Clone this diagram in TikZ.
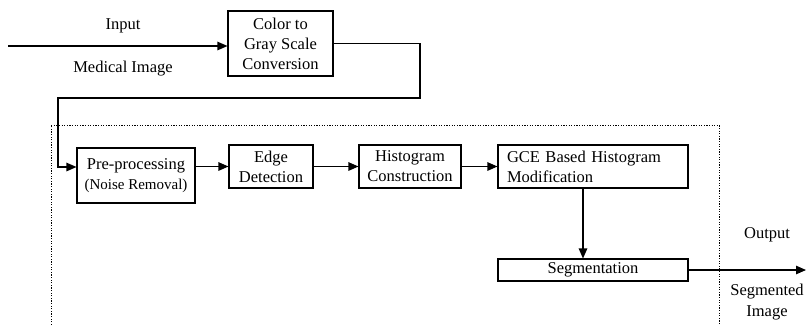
\documentclass[tikz,border=0pt]{standalone}
\usepackage{fontspec}
\setmainfont{Liberation Serif}
\usetikzlibrary{arrows.meta}
\tikzset{
  box/.style={draw, line width=1.1pt, inner sep=2pt, align=center, font=\fontsize{16.5}{20}\selectfont},
  lbl/.style={inner sep=0pt, align=center, font=\fontsize{16.5}{21}\selectfont},
  arr/.style={line width=1.1pt, -{Triangle[length=10pt,width=8.5pt]}},
  frame/.style={line width=1pt, dash pattern=on 1.2pt off 1.4pt}
}
\begin{document}
\begin{tikzpicture}[x=1pt,y=-1pt]
\useasboundingbox (0,0) rectangle (807,325);
% boxes
\node[box, minimum width=105pt, minimum height=65pt] (color) at (280.5,43.5) {Color to\\Gray Scale\\Conversion};
\node[box, minimum width=118pt, minimum height=55pt] (pre) at (136,175.5) {Pre-processing\\{\fontsize{15}{19}\selectfont (Noise Removal)}};
\node[box, minimum width=84pt, minimum height=43pt] (edge) at (271,166.5) {Edge\\Detection};
\node[box, minimum width=102pt, minimum height=43pt] (hist) at (410,166.5) {Histogram\\Construction};
\node[box, minimum width=190pt, minimum height=43pt, text width=172pt, align=left] (gce) at (593,166.5) {GCE Based Histogram\\Modification};
\node[box, minimum width=190pt, minimum height=22pt, inner sep=1pt] (seg) at (593,270) {Segmentation};
% labels
\node[lbl] (inlbl) at (123,26) {Input};
\node[lbl] (medlbl) at (123,69) {Medical Image};
\node[lbl] (outlbl) at (767,235) {Output};
\node[lbl] (seglbl) at (767,302) {Segmented\\Image};
% frame
\draw[frame] (51,325) -- (51,125) -- (719,125) -- (719,325);
% connectors
\coordinate (inStart) at (8,46);
\coordinate (c1) at (420,98);
\coordinate (c2) at (58,98);
\coordinate (outEnd) at (806,271);
\draw[arr] (inStart) -- (inStart -| color.west);
\draw[arr] (color.east) -| (c1) -- (c2) |- ([yshift=8.5pt]pre.west);
\draw[arr] (pre.east |- edge.west) -- (edge.west);
\draw[arr] (edge.east) -- (hist.west);
\draw[arr] (hist.east) -- (gce.west);
\draw[arr] ([xshift=-10pt]gce.south) -- ([xshift=-10pt]seg.north);
\draw[arr] (seg.east) -- (seg.east -| outEnd);
\end{tikzpicture}
\end{document}
